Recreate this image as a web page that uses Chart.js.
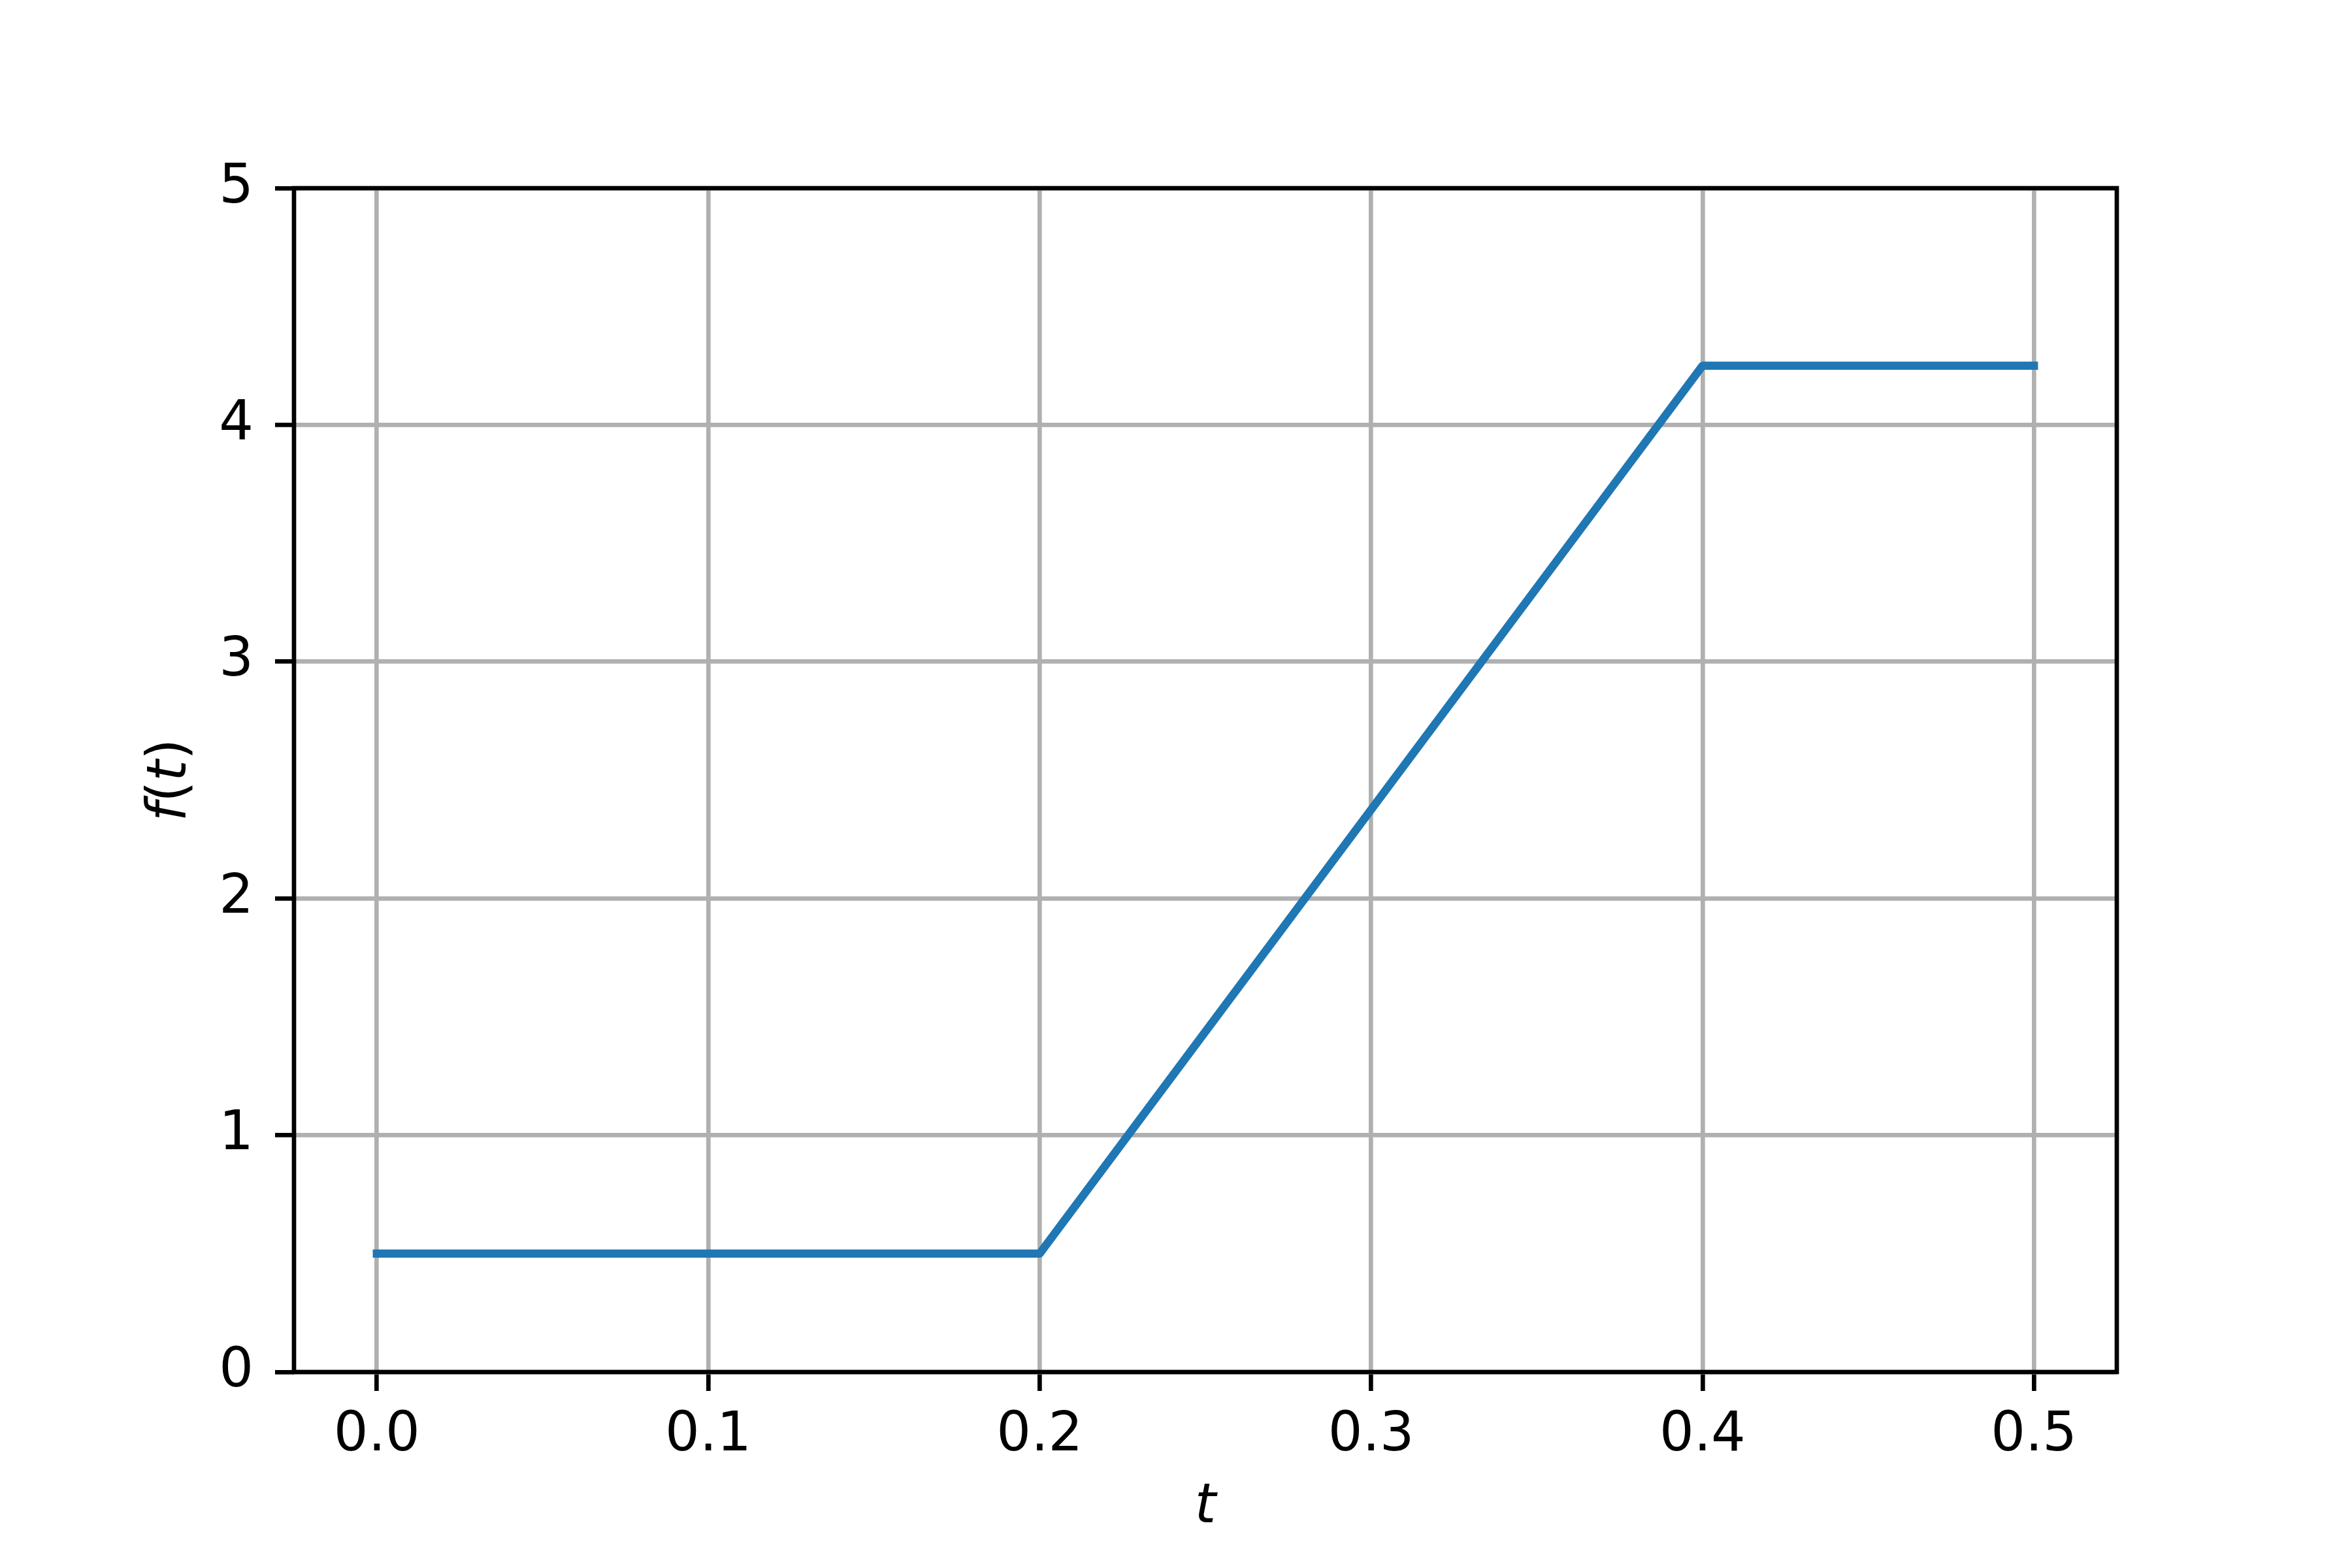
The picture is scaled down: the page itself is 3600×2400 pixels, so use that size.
<!DOCTYPE html>
<html>
<head>
<meta charset="utf-8">
<script src="https://cdn.jsdelivr.net/npm/chart.js@4/dist/chart.umd.min.js"></script>
<style>
  body { margin: 0; background: #ffffff; }
  canvas { display: block; }
</style>
</head>
<body>
<canvas id="plot" width="3600" height="2400"></canvas>
<script>
// data
const tValues = [0.0, 0.2, 0.4, 0.5];
const fValues = [0.5, 0.5, 4.25, 4.25];

const xTicks = [0.0, 0.1, 0.2, 0.3, 0.4, 0.5];
const xTickLabels = ["0.0", "0.1", "0.2", "0.3", "0.4", "0.5"];
const yTicks = [0, 1, 2, 3, 4, 5];

// y label pieces: math letters italic, brackets upright
const yLabelParts = [["f", true], ["(", false], ["t", true], [")", false]];

const lineColor = "#1f77b4";
const gridColor = "#b0b0b0";
const fontSize = 83;

// spines drawn over the line like matplotlib
const framePlugin = {
    id: "frame",
    afterDatasetsDraw(chart) {
        const { ctx, chartArea } = chart;
        ctx.save();
        ctx.strokeStyle = "#000000";
        ctx.lineWidth = 6.7;
        ctx.lineJoin = "miter";
        ctx.strokeRect(chartArea.left, chartArea.top,
            chartArea.right - chartArea.left, chartArea.bottom - chartArea.top);
        ctx.restore();
    }
};

// rotated y label with mixed italic / upright glyphs
const yLabelPlugin = {
    id: "yLabel",
    afterDraw(chart) {
        const { ctx, chartArea } = chart;
        const fontOf = (it) => (it ? "italic " : "") + fontSize + "px 'DejaVu Sans'";
        let total = 0;
        const widths = yLabelParts.map(([s, it]) => {
            ctx.font = fontOf(it);
            const w = ctx.measureText(s).width;
            total += w;
            return w;
        });
        ctx.save();
        ctx.translate(262, (chartArea.top + chartArea.bottom) / 2);
        ctx.rotate(-Math.PI / 2);
        ctx.fillStyle = "#000000";
        ctx.textBaseline = "middle";
        ctx.textAlign = "left";
        let x = -total / 2;
        yLabelParts.forEach(([s, it], i) => {
            ctx.font = fontOf(it);
            ctx.fillText(s, x, 0);
            x += widths[i];
        });
        ctx.restore();
    }
};

const ctx = document.getElementById("plot").getContext("2d");

new Chart(ctx, {
    type: "line",
    data: {
        datasets: [{
            data: tValues.map((t, i) => ({ x: t, y: fValues[i] })),
            borderColor: lineColor,
            borderWidth: 12.5,
            borderCapStyle: "square",
            borderJoinStyle: "round",
            pointRadius: 0,
            tension: 0,
            fill: false
        }]
    },
    options: {
        responsive: false,
        animation: false,
        devicePixelRatio: 1,
        layout: {
            padding: { left: 150, right: 360, top: 288, bottom: 0 }
        },
        plugins: {
            legend: { display: false },
            tooltip: { enabled: false }
        },
        scales: {
            x: {
                type: "linear",
                min: -0.025,
                max: 0.525,
                afterBuildTicks: (scale) => {
                    scale.ticks = xTicks.map(v => ({ value: v }));
                },
                afterFit: (scale) => { scale.height = 300; },
                ticks: {
                    color: "#000000",
                    font: { family: "DejaVu Sans", size: fontSize },
                    padding: 20,
                    maxRotation: 0,
                    autoSkip: false,
                    callback: (value) => {
                        const i = xTicks.findIndex(v => Math.abs(v - value) < 1e-9);
                        return i >= 0 ? xTickLabels[i] : "";
                    }
                },
                grid: {
                    color: gridColor,
                    lineWidth: 6.7,
                    tickColor: "#000000",
                    tickWidth: 6.7,
                    tickLength: 29,
                    drawTicks: true
                },
                border: { display: false },
                title: {
                    display: true,
                    text: "t",
                    color: "#000000",
                    font: { family: "DejaVu Sans", size: fontSize, style: "italic" },
                    padding: { top: 0, bottom: 42 }
                }
            },
            y: {
                type: "linear",
                min: 0,
                max: 5,
                afterBuildTicks: (scale) => {
                    scale.ticks = yTicks.map(v => ({ value: v }));
                },
                afterFit: (scale) => { scale.width = 300; },
                ticks: {
                    color: "#000000",
                    font: { family: "DejaVu Sans", size: fontSize },
                    padding: 33
                },
                grid: {
                    color: gridColor,
                    lineWidth: 6.7,
                    tickColor: "#000000",
                    tickWidth: 6.7,
                    tickLength: 29,
                    drawTicks: true
                },
                border: { display: false },
                title: { display: false }
            }
        }
    },
    plugins: [framePlugin, yLabelPlugin]
});
</script>
</body>
</html>
